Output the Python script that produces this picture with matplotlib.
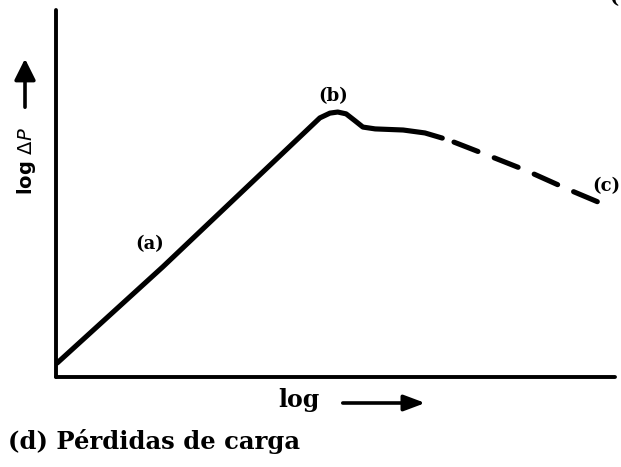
import matplotlib
matplotlib.use("Agg")
import matplotlib.pyplot as plt

# Pressure-drop curve, log scale (arbitrary units)
log_q_solid = [0.2, 19.1, 20.0, 47.2, 49.0, 50.4,
               51.9, 53.5, 54.9, 57.1, 62.1, 66.0, 69.1]
log_dp_solid = [3.8, 30.0, 31.3, 70.6, 71.9, 72.2,
                71.7, 69.8, 68.1, 67.6, 67.3, 66.5, 65.1]
log_q_dashed = [71.2, 77.6, 83.9, 91.8, 99.6]
log_dp_dashed = [64.0, 60.2, 56.4, 51.0, 46.0]

point_labels = ["(a)", "(b)", "(c)"]
point_label_q = [16.8, 49.5, 98.4]
point_label_dp = [36.2, 76.6, 52.0]

W, H = 621, 467
fig = plt.figure(figsize=(W / 100, H / 100), dpi=100)
ax = fig.add_axes([56 / W, 1 - 377 / H, (615 - 56) / W, (377 - 10) / H])
ax.set_xlim(0, 100)
ax.set_ylim(0, 100)

serif = "DejaVu Serif"
lw = 3.7
ax.plot(log_q_solid, log_dp_solid, color="black", lw=lw,
        solid_capstyle="round", solid_joinstyle="round")
ax.plot(log_q_dashed, log_dp_dashed, color="black", lw=lw,
        dashes=(5.0, 3.4), dash_capstyle="round", clip_on=False)

for lab, q, dp in zip(point_labels, point_label_q, point_label_dp):
    ax.text(q, dp, lab, ha="center", va="center", fontsize=13,
            fontweight="bold", family=serif)

for side in ("top", "right"):
    ax.spines[side].set_visible(False)
for side in ("left", "bottom"):
    ax.spines[side].set_linewidth(2.8)
    ax.spines[side].set_capstyle("round")
ax.set_xticks([])
ax.set_yticks([])

# Axis captions with direction arrows
fig.text(27 / W, 1 - 161 / H, r"log $\Delta\mathit{P}$", rotation=90,
         ha="center", va="center", fontsize=14, fontweight="bold",
         family="DejaVu Sans")
fig.add_artist(matplotlib.patches.FancyArrowPatch(
    (25 / W, 1 - 110 / H), (25 / W, 1 - 56 / H), transform=fig.transFigure,
    arrowstyle="-|>,head_length=8,head_width=4", mutation_scale=1.6,
    color="black", lw=2.6))

fig.text(299 / W, 1 - 400 / H, "log", ha="center", va="center",
         fontsize=17, fontweight="bold", family=serif)
fig.add_artist(matplotlib.patches.FancyArrowPatch(
    (340 / W, 1 - 403 / H), (428 / W, 1 - 403 / H), transform=fig.transFigure,
    arrowstyle="-|>,head_length=8,head_width=3", mutation_scale=1.6,
    color="black", lw=2.6))

fig.text(8 / W, 1 - 442 / H, "(d) Pérdidas de carga", ha="left", va="center",
         fontsize=17.5, fontweight="bold", family=serif)
fig.text(614 / W, 1 + 2 / H, "(", ha="center", va="center",
         fontsize=14, fontweight="bold", family=serif)

fig.savefig("out.png", dpi=100, facecolor="white")
